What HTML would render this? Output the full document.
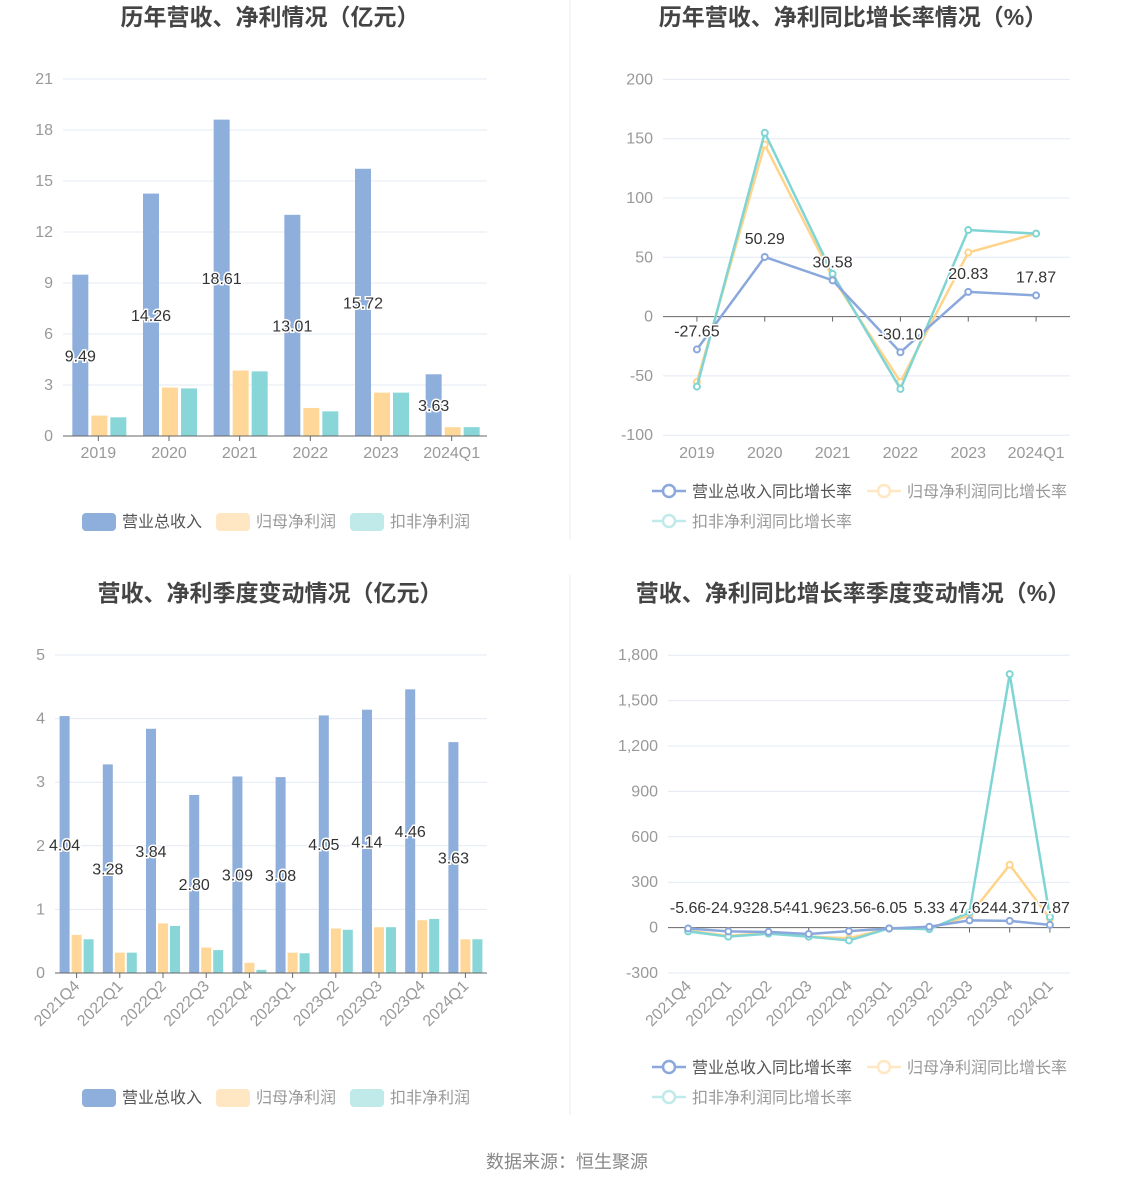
<!DOCTYPE html><html><head><meta charset="utf-8"><style>
body{margin:0;background:#fff}
svg{display:block;font-family:"Liberation Sans","Noto Sans CJK SC",sans-serif}
</style></head><body>
<svg id="s" width="1134" height="1188" xmlns="http://www.w3.org/2000/svg"></svg>
<script>
const S=document.getElementById('s');let h='';
const B='#8eaedb',O='#ffd899',T='#88d6d8',LB='#8aa8dc',LO='#ffd48a',LT='#7fd4d4';
function t(x,y,s,o){o=o||{};h+=`<text x="${x}" y="${y}" font-size="${o.fs||16}" fill="${o.c||'#999'}" text-anchor="${o.a||'middle'}" ${o.w?'font-weight="bold"':''} ${o.tr?'transform="'+o.tr+'"':''} ${o.halo?'stroke="#fff" stroke-width="3" paint-order="stroke"':''}>${s}</text>`;}
function ln(x1,y1,x2,y2,c,w){h+=`<line x1="${x1}" y1="${y1}" x2="${x2}" y2="${y2}" stroke="${c}" stroke-width="${w||1}"/>`;}
t(270,25,'历年营收、净利情况（亿元）',{fs:23,c:'#444',w:1});
t(853,25,'历年营收、净利同比增长率情况（%）',{fs:23,c:'#444',w:1});
t(270,601,'营收、净利季度变动情况（亿元）',{fs:23,c:'#444',w:1});
t(853,601,'营收、净利同比增长率季度变动情况（%）',{fs:23,c:'#444',w:1});
ln(570,0,570,540,'#eee');ln(570,575,570,1115,'#eee');
t(567,1168,'数据来源：恒生聚源',{fs:18,c:'#888'});
function bars(o){
 o.ticks.forEach(v=>{const y=o.y0-v*o.k;ln(o.x1,y,o.x2,y,'#e3e8f3');t(o.x1-10,y+5,v,{a:'end'});});
 const n=o.cats.length,w=(o.x2-o.x1)/n;
 o.cats.forEach((c,i)=>{const cx=o.x1+w*(i+.5);
  [[o.r,B,o.off[0]],[o.n,O,o.off[1]],[o.d,T,o.off[2]]].forEach(([a,col,of])=>{const v=a[i];h+=`<rect x="${cx+of}" y="${o.y0-v*o.k}" width="${o.bw}" height="${v*o.k}" fill="${col}"/>`;});
  ln(cx,o.y0,cx,o.y0+5,'#666');
  if(o.rot) t(cx+4,o.y0+14,c,{a:'end',tr:`rotate(-45 ${cx+4} ${o.y0+14})`}); else t(cx,o.y0+22,c);
 });
 ln(o.x1,o.y0,o.x2,o.y0,'#666');
 o.cats.forEach((c,i)=>{const cx=o.x1+w*(i+.5)+o.off[0]+o.bw/2;t(cx,o.y0-o.r[i]*o.k/2+6,o.r[i].toFixed(2),{c:'#333',halo:1});});
}
bars({x1:63,x2:487,y0:436,k:17,ticks:[0,3,6,9,12,15,18,21],cats:['2019','2020','2021','2022','2023','2024Q1'],
 r:[9.49,14.26,18.61,13.01,15.72,3.63],n:[1.2,2.85,3.85,1.65,2.55,0.52],d:[1.1,2.8,3.8,1.45,2.55,0.52],bw:16,off:[-26,-7,12]});
bars({x1:55,x2:487,y0:973,k:63.6,ticks:[0,1,2,3,4,5],cats:['2021Q4','2022Q1','2022Q2','2022Q3','2022Q4','2023Q1','2023Q2','2023Q3','2023Q4','2024Q1'],rot:1,
 r:[4.04,3.28,3.84,2.80,3.09,3.08,4.05,4.14,4.46,3.63],n:[.6,.32,.78,.4,.16,.32,.7,.72,.83,.53],d:[.53,.32,.74,.36,.05,.31,.68,.72,.85,.53],bw:10,off:[-17,-5,7]});
function lines(o){
 o.ticks.forEach(v=>{const y=o.y0-v*o.k;ln(o.x1,y,o.x2,y,v==0?'#666':'#e3e8f3');t(o.x1-10,y+5,v.toLocaleString('en-US'),{a:'end'});});
 const n=o.cats.length,w=(o.x2-o.x1)/n,X=i=>o.x1+w*(i+.5);
 o.cats.forEach((c,i)=>{const cx=X(i);ln(cx,o.y0,cx,o.y0+5,'#666');
  if(o.rot) t(cx+4,o.ly+14,c,{a:'end',tr:`rotate(-45 ${cx+4} ${o.ly+14})`}); else t(cx,o.ly+22,c);});
 [[o.n,LO],[o.d,LT],[o.r,LB]].forEach(([a,c])=>{
  h+=`<polyline fill="none" stroke="${c}" stroke-width="2.5" points="${a.map((v,i)=>X(i)+','+(o.y0-v*o.k)).join(' ')}"/>`;
  a.forEach((v,i)=>h+=`<circle cx="${X(i)}" cy="${o.y0-v*o.k}" r="3" fill="#fff" stroke="${c}" stroke-width="2"/>`);});
 o.r.forEach((v,i)=>t(X(i)+(o.lx||0),(o.lyFix||o.y0-v*o.k-13),v.toFixed(2),{c:'#333',halo:1}));
}
lines({x1:663,x2:1070,y0:316.6,ly:436,k:59.3/50,ticks:[-100,-50,0,50,100,150,200],cats:['2019','2020','2021','2022','2023','2024Q1'],
 r:[-27.65,50.29,30.58,-30.10,20.83,17.87],n:[-55,145,33,-55,54,70],d:[-59,155,36,-61,73,70]});
lines({x1:668,x2:1070,y0:927.6,ly:973,k:45.4/300,ticks:[-300,0,300,600,900,1200,1500,1800],cats:['2021Q4','2022Q1','2022Q2','2022Q3','2022Q4','2023Q1','2023Q2','2023Q3','2023Q4','2024Q1'],rot:1,lyFix:913,
 r:[-5.66,-24.93,-28.54,-41.96,-23.56,-6.05,5.33,47.62,44.37,17.87],n:[-20,-55,-35,-60,-70,-5,-5,80,415,60],d:[-25,-60,-40,-60,-85,-5,-10,100,1675,70]});
function legBar(y){[[82,B,'营业总收入','#555'],[216,'#ffe7c4','归母净利润','#999'],[350,'#c0eaea','扣非净利润','#999']].forEach(([x,c,s,tc])=>{h+=`<rect x="${x}" y="${y-8}" width="34" height="18" rx="4" fill="${c}"/>`;t(x+40,y+6,s,{a:'start',c:tc});});}
legBar(521);legBar(1097);
function legLine(y){[[652,y,LB,'营业总收入同比增长率','#555'],[867,y,'#ffe7c4','归母净利润同比增长率','#999'],[652,y+30,'#c0eaea','扣非净利润同比增长率','#999']].forEach(([x,yy,c,s,tc])=>{ln(x,yy,x+34,yy,c,2.5);h+=`<circle cx="${x+17}" cy="${yy}" r="6" fill="#fff" stroke="${c}" stroke-width="2.5"/>`;t(x+40,yy+6,s,{a:'start',c:tc});});}
legLine(491);legLine(1067);
S.innerHTML=h;
</script></body></html>
